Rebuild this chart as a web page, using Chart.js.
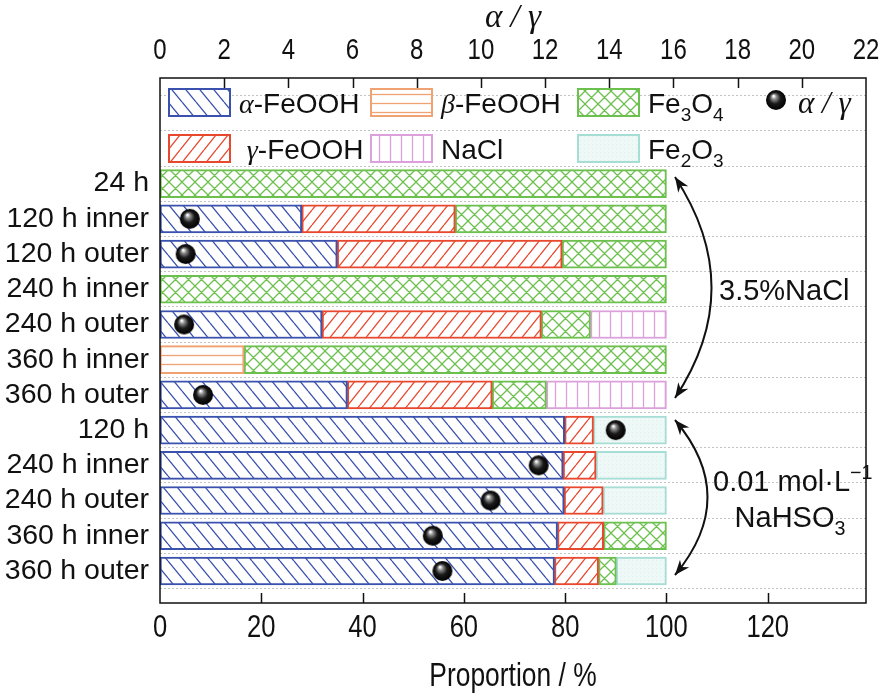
<!DOCTYPE html>
<html>
<head>
<meta charset="utf-8">
<script src="https://cdn.jsdelivr.net/npm/chart.js@4.4.1/dist/chart.umd.min.js"></script>
<style>
  html, body { margin: 0; padding: 0; background: #fff; }
  #wrap { width: 886px; height: 698px; position: relative; }
</style>
</head>
<body>
<div id="wrap"><canvas id="chartFases"></canvas></div>
<script>
// categorias (de cima para baixo)
const categories = ['24 h', '120 h inner', '120 h outer', '240 h inner', '240 h outer', '360 h inner', '360 h outer',
                    '120 h', '240 h inner', '240 h outer', '360 h inner', '360 h outer'];

// proporções (%)
const alphaFeOOH = [null, 28.0, 35.0, null, 32.0, null, 37.0, 79.9, 79.6, 79.8, 78.5, 77.9];
const gammaFeOOH = [null, 30.3, 44.4, null, 43.3, null, 28.6, 5.7, 6.5, 7.7, 9.1, 8.7];
const betaFeOOH  = [null, null, null, null, null, 16.6, null, null, null, null, null, null];
const fe3o4      = [100, 41.7, 20.6, 100, 9.7, 83.4, 10.7, null, null, null, 12.4, 3.5];
const nacl       = [null, null, null, null, 15.0, null, 23.7, null, null, null, null, null];
const fe2o3      = [null, null, null, null, null, null, null, 14.4, 13.9, 12.5, null, 9.9];

// razão alfa/gama (eixo de cima)
const ratio = [null, 0.93, 0.80, null, 0.75, null, 1.34, 14.2, 11.8, 10.3, 8.5, 8.8];

// ticks
const bottomTicks = [0, 20, 40, 60, 80, 100, 120];
const topTicks = [0, 2, 4, 6, 8, 10, 12, 14, 16, 18, 20, 22];

// posição de cada linha no eixo y (24 h em cima)
const rowPos = categories.map((c, i) => categories.length - i);

const SANS = '"Liberation Sans", Arial, sans-serif';
const SERIF = '"Liberation Serif", "Times New Roman", serif';

const cores = {
    alpha: '#3a52ae',
    gamma: '#e8482e',
    beta: '#f0a272',
    fe3o4: '#6cc04e',
    nacl: '#dca0dc',
    fe2o3: '#a6ddd5'
};

// hachuras
function makePattern(kind, color) {
    const c = document.createElement('canvas');
    let w = 13, h = 13;
    if (kind === 'back') { w = 14; h = 17; }
    if (kind === 'fwd') { w = 12; h = 15; }
    if (kind === 'horiz') { w = 10; h = 9; }
    if (kind === 'vert') { w = 11; h = 10; }
    if (kind === 'dots') { w = 4; h = 4; }
    c.width = w; c.height = h;
    const g = c.getContext('2d');
    g.fillStyle = '#fff';
    g.fillRect(0, 0, w, h);
    g.strokeStyle = color;
    g.lineWidth = 1.3;
    g.beginPath();
    if (kind === 'back' || kind === 'cross') {
        for (const o of [-w, 0, w]) { g.moveTo(o, 0); g.lineTo(o + w, h); }
    }
    if (kind === 'fwd' || kind === 'cross') {
        for (const o of [-w, 0, w]) { g.moveTo(o, h); g.lineTo(o + w, 0); }
    }
    if (kind === 'horiz') { g.moveTo(0, h / 2); g.lineTo(w, h / 2); }
    if (kind === 'vert') { g.moveTo(w / 2, 0); g.lineTo(w / 2, h); }
    g.stroke();
    if (kind === 'dots') {
        g.fillStyle = '#eef8f6';
        g.fillRect(0, 0, w, h);
        g.fillStyle = '#dcefeb';
        g.fillRect(0, 0, 1, 1);
    }
    return g.createPattern(c, 'repeat');
}

const pat = {
    alpha: makePattern('back', cores.alpha),
    gamma: makePattern('fwd', cores.gamma),
    beta: makePattern('horiz', cores.beta),
    fe3o4: makePattern('cross', cores.fe3o4),
    nacl: makePattern('vert', cores.nacl),
    fe2o3: makePattern('dots', cores.fe2o3)
};

// esfera preta
function makeSphere(r) {
    const c = document.createElement('canvas');
    c.width = c.height = 2 * r + 2;
    const g = c.getContext('2d');
    const cx = r + 1, cy = r + 1;
    const grad = g.createRadialGradient(cx - r * 0.25, cy - r * 0.4, 0.5, cx, cy, r);
    grad.addColorStop(0, '#ffffff');
    grad.addColorStop(0.22, '#8a8a8a');
    grad.addColorStop(0.55, '#1a1a1a');
    grad.addColorStop(1, '#000');
    g.fillStyle = grad;
    g.beginPath();
    g.arc(cx, cy, r, 0, Math.PI * 2);
    g.fill();
    return c;
}
const sphere = makeSphere(10);

function toXY(arr) {
    return arr.map((v, i) => ({ x: v, y: rowPos[i] }));
}

function barSet(label, arr, key) {
    return {
        type: 'bar',
        label: label,
        data: toXY(arr),
        backgroundColor: pat[key],
        borderColor: cores[key],
        borderWidth: 2,
        borderSkipped: false,
        barThickness: 28,
        xAxisID: 'x',
        yAxisID: 'y',
        order: 1
    };
}

// texto com sub/sobrescritos e letras gregas
function drawRich(ctx, parts, x, y, size, align) {
    const fontOf = p => {
        const s = (p.sub || p.sup) ? size * 0.68 : size;
        return p.it ? `italic ${s}px ${SERIF}` : `${s}px ${SANS}`;
    };
    let total = 0;
    for (const p of parts) { ctx.font = fontOf(p); total += ctx.measureText(p.t).width; }
    let cx = align === 'center' ? x - total / 2 : x;
    ctx.textAlign = 'left';
    ctx.textBaseline = 'alphabetic';
    for (const p of parts) {
        ctx.font = fontOf(p);
        let dy = 0;
        if (p.sub) dy = size * 0.28;
        if (p.sup) dy = -size * 0.42;
        ctx.fillText(p.t, cx, y + dy);
        cx += ctx.measureText(p.t).width;
    }
}

// texto estreito (tipo Arial Narrow)
function narrowText(ctx, text, x, y, size) {
    ctx.save();
    ctx.translate(x, y);
    ctx.scale(0.8, 1);
    ctx.font = `${size}px ${SANS}`;
    ctx.textAlign = 'center';
    ctx.textBaseline = 'middle';
    ctx.fillText(text, 0, 0);
    ctx.restore();
}

function drawArrowHead(ctx, x, y, dx, dy) {
    const len = Math.hypot(dx, dy);
    const ux = dx / len, uy = dy / len;
    const L = 15, W = 6;
    ctx.beginPath();
    ctx.moveTo(x, y);
    ctx.lineTo(x - ux * L - uy * W, y - uy * L + ux * W);
    ctx.lineTo(x - ux * L * 0.7, y - uy * L * 0.7);
    ctx.lineTo(x - ux * L + uy * W, y - uy * L - ux * W);
    ctx.closePath();
    ctx.fill();
}

function curvedArrow(ctx, x0, y0, cx, cy, x1, y1) {
    ctx.beginPath();
    ctx.moveTo(x0, y0);
    ctx.quadraticCurveTo(cx, cy, x1, y1);
    ctx.stroke();
    drawArrowHead(ctx, x0, y0, x0 - cx, y0 - cy);
    drawArrowHead(ctx, x1, y1, x1 - cx, y1 - cy);
}

const decorations = {
    id: 'decorations',
    afterDraw(chart) {
        const { ctx, chartArea: a, scales } = chart;
        ctx.save();

        // moldura
        ctx.strokeStyle = '#111';
        ctx.lineWidth = 1.5;
        ctx.strokeRect(a.left, a.top, a.right - a.left, a.bottom - a.top);

        // ticks para dentro
        ctx.beginPath();
        bottomTicks.forEach(v => {
            if (v <= 0) return;
            const px = Math.round(scales.x.getPixelForValue(v)) + 0.5;
            ctx.moveTo(px, a.bottom);
            ctx.lineTo(px, a.bottom - 10);
        });
        topTicks.forEach(v => {
            if (v <= 0 || v >= 22) return;
            const px = Math.round(scales.x2.getPixelForValue(v)) + 0.5;
            ctx.moveTo(px, a.top);
            ctx.lineTo(px, a.top + 10);
        });
        ctx.stroke();

        // rótulos dos eixos x
        ctx.fillStyle = '#111';
        bottomTicks.forEach(v => narrowText(ctx, String(v), scales.x.getPixelForValue(v), a.bottom + 25, 32));
        topTicks.forEach(v => narrowText(ctx, String(v), scales.x2.getPixelForValue(v), a.top - 27, 30));
        narrowText(ctx, 'Proportion / %', (a.left + a.right) / 2, 677, 33);
        ctx.font = `italic 33px ${SERIF}`;
        ctx.textAlign = 'center';
        ctx.textBaseline = 'middle';
        ctx.fillText('α / γ', (a.left + a.right) / 2, 18);

        // legenda
        const rows = [a.top + 10, a.top + 56];
        const cols = [a.left + 8, a.left + 210, a.left + 417];
        const items = [
            { key: 'alpha', r: 0, c: 0, parts: [{ t: 'α', it: true }, { t: '-FeOOH' }] },
            { key: 'beta', r: 0, c: 1, parts: [{ t: 'β', it: true }, { t: '-FeOOH' }] },
            { key: 'fe3o4', r: 0, c: 2, parts: [{ t: 'Fe' }, { t: '3', sub: true }, { t: 'O' }, { t: '4', sub: true }] },
            { key: 'gamma', r: 1, c: 0, parts: [{ t: ' ' }, { t: 'γ', it: true }, { t: '-FeOOH' }] },
            { key: 'nacl', r: 1, c: 1, parts: [{ t: 'NaCl' }] },
            { key: 'fe2o3', r: 1, c: 2, parts: [{ t: 'Fe' }, { t: '2', sub: true }, { t: 'O' }, { t: '3', sub: true }] }
        ];
        items.forEach(it => {
            const bx = cols[it.c], by = rows[it.r];
            ctx.fillStyle = pat[it.key];
            ctx.fillRect(bx, by, 63, 29);
            ctx.strokeStyle = cores[it.key];
            ctx.lineWidth = 2;
            ctx.strokeRect(bx + 1, by + 1, 61, 27);
            ctx.fillStyle = '#111';
            drawRich(ctx, it.parts, bx + 71, by + 25, 28);
        });
        // esfera na legenda
        ctx.drawImage(sphere, a.left + 605, a.top + 11);
        ctx.fillStyle = '#111';
        drawRich(ctx, [{ t: 'α / γ', it: true }], a.left + 638, a.top + 35, 31);

        // setas curvas
        ctx.strokeStyle = '#111';
        ctx.fillStyle = '#111';
        ctx.lineWidth = 2;
        curvedArrow(ctx, 675, 177, 748, 288, 675, 398);
        curvedArrow(ctx, 675, 420, 740, 497, 675, 575);

        ctx.fillStyle = '#111';
        drawRich(ctx, [{ t: '3.5%NaCl' }], 719, 300, 29);
        drawRich(ctx, [{ t: '0.01 mol·L' }, { t: '−1', sup: true }], 713, 491, 29);
        drawRich(ctx, [{ t: 'NaHSO' }, { t: '3', sub: true }], 790, 527, 29, 'center');

        ctx.restore();
    }
};

new Chart(document.getElementById('chartFases'), {
    data: {
        datasets: [
            barSet('α-FeOOH', alphaFeOOH, 'alpha'),
            barSet('γ-FeOOH', gammaFeOOH, 'gamma'),
            barSet('β-FeOOH', betaFeOOH, 'beta'),
            barSet('Fe3O4', fe3o4, 'fe3o4'),
            barSet('NaCl', nacl, 'nacl'),
            barSet('Fe2O3', fe2o3, 'fe2o3'),
            {
                type: 'scatter',
                label: 'α / γ',
                data: toXY(ratio),
                xAxisID: 'x2',
                yAxisID: 'y',
                pointStyle: sphere,
                order: 0
            }
        ]
    },
    options: {
        indexAxis: 'y',
        responsive: true,
        maintainAspectRatio: false,
        animation: false,
        layout: { padding: 0 },
        plugins: {
            legend: { display: false },
            tooltip: { enabled: false }
        },
        scales: {
            x: {
                type: 'linear',
                position: 'bottom',
                stacked: true,
                offset: false,
                min: 0,
                max: 139.4,
                afterFit: s => { s.height = 95; },
                ticks: { display: false },
                grid: { display: false, drawTicks: false },
                border: { display: false }
            },
            x2: {
                type: 'linear',
                position: 'top',
                offset: false,
                min: 0,
                max: 22,
                afterFit: s => { s.height = 78; },
                ticks: { display: false },
                grid: { display: false, drawTicks: false },
                border: { display: false }
            },
            y: {
                type: 'linear',
                position: 'left',
                stacked: true,
                offset: false,
                min: 0.09,
                max: 15,
                afterBuildTicks: s => { s.ticks = rowPos.map(v => ({ value: v })); },
                afterFit: s => { s.width = 160; },
                ticks: {
                    autoSkip: false,
                    color: '#111',
                    padding: 11,
                    font: { family: SANS, size: 28.5 },
                    callback: v => categories[categories.length - v]
                },
                grid: { display: false, drawTicks: false },
                border: { display: false }
            },
            y2: {
                type: 'linear',
                position: 'right',
                offset: false,
                min: 0.09,
                max: 15,
                afterBuildTicks: s => {
                    const t = [];
                    for (let v = 0.5; v < 15; v += 1) t.push({ value: v });
                    s.ticks = t;
                },
                afterFit: s => { s.width = 20; },
                ticks: { display: false },
                grid: { color: '#c4c4c4', lineWidth: 1, drawTicks: false },
                border: { display: false, dash: [2, 2] }
            }
        }
    },
    plugins: [decorations]
});
</script>
</body>
</html>
